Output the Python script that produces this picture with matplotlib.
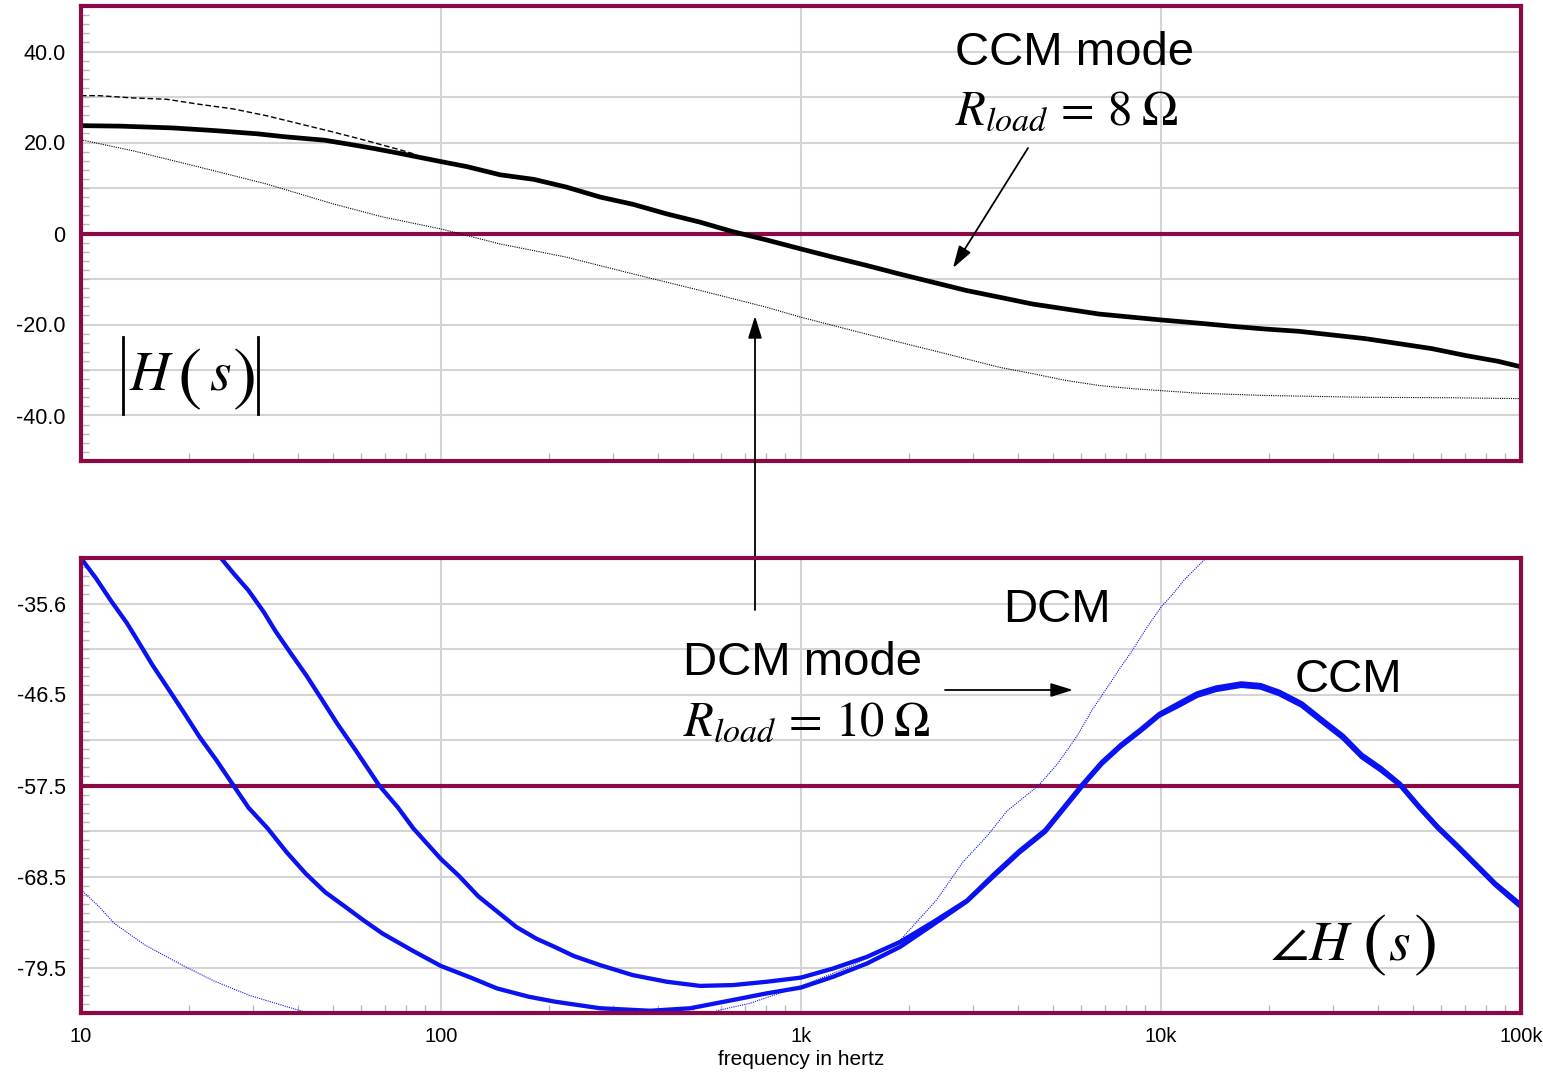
"""Bode plot of the boost converter control-to-output response, CCM vs DCM."""
import matplotlib
matplotlib.use("Agg")
import numpy as np
import matplotlib.pyplot as plt
from matplotlib.lines import Line2D
from matplotlib.ticker import FixedLocator, LogLocator, NullFormatter, FixedFormatter

plt.rcParams["font.family"] = ["Liberation Sans", "DejaVu Sans"]
plt.rcParams["mathtext.fontset"] = "stix"

MAROON = "#8b0a46"
GRID = "#d4d4d4"
TICK = "#b8b8b8"
BLUE = "#0a12f2"

W, H = 1543, 1073

# ---- magnitude (dB) ----
ccm_mag_f = [10, 12.8, 18, 23.7, 31, 36.4, 47.5, 55.8, 64.9, 76.9, 100, 118, 146, 181,
             223, 277, 342, 424, 524, 647, 801, 1000, 1227, 1518, 1878, 2323, 2871,
             3557, 4397, 5445, 6730, 10000, 12700, 15800, 19500, 24200, 29900, 36900,
             45700, 56500, 70000, 86500, 100000]
ccm_mag_db = [23.7, 23.6, 23.2, 22.6, 21.9, 21.3, 20.5, 19.6, 18.7, 17.6, 15.8, 14.7,
              12.9, 11.9, 10.2, 8.0, 6.4, 4.3, 2.5, 0.4, -1.4, -3.4, -5.2, -7.0, -8.9,
              -10.7, -12.5, -14.0, -15.5, -16.6, -17.7, -19.0, -19.7, -20.4, -21.0,
              -21.5, -22.3, -23.1, -24.2, -25.3, -26.8, -28.1, -29.3]

ccm_open_f = [10, 11.2, 13.9, 17.3, 21.3, 26.4, 32.7, 40.5, 50.2, 62.1, 76.9, 85.6]
ccm_open_db = [30.3, 30.3, 29.8, 29.5, 28.4, 27.4, 25.9, 24.1, 22.3, 20.4, 18.4, 17.3]

dcm_mag_f = [10, 13.9, 21.3, 32.7, 50.2, 69.2, 100, 146, 223, 342, 524, 801, 1000,
             1518, 2323, 3557, 4397, 5445, 6730, 8340, 12700, 19500, 36900, 64300,
             100000]
dcm_mag_db = [20.6, 18.2, 14.6, 10.9, 6.5, 3.6, 1.0, -2.3, -5.2, -8.9, -12.5, -16.2,
              -18.4, -22.1, -25.7, -29.4, -30.8, -32.3, -33.4, -34.1, -35.1, -35.6,
              -36.0, -36.1, -36.3]

# ---- phase (deg) ----
ccm_ph_a_f = [10, 11.0, 12.1, 13.4, 14.4, 15.8, 17.5, 19.3, 21.3, 23.8, 26.5, 29.2, 33,
              37.3, 42.2, 47.7, 54, 61, 68.9, 83.8, 100, 121, 143, 175, 207, 277, 381,
              492, 647, 803, 1000, 1228, 1524, 1884, 2328, 2891, 3443, 4045, 4768, 6070,
              6850, 7740, 8750, 9880, 11200, 12600, 14200, 16700, 18900, 21300, 24600,
              28300, 32000, 36100, 40800, 46100, 52100, 58800, 66400, 75000, 84700,
              100000]
ccm_ph_a_deg = [-30.1, -32.5, -35.2, -37.9, -40.1, -43.0, -45.9, -48.7, -51.6, -54.5,
                -57.5, -60.2, -62.7, -65.6, -68.2, -70.4, -72.1, -73.8, -75.4, -77.5,
                -79.3, -80.7, -82.0, -83.0, -83.6, -84.4, -84.7, -84.4, -83.4, -82.6,
                -81.9, -80.6, -79.0, -77.0, -74.3, -71.5, -68.4, -65.6, -63.1, -57.5,
                -54.9, -52.8, -51.0, -49.1, -47.9, -46.7, -46.0, -45.5, -45.7, -46.5,
                -47.9, -50.0, -51.8, -54.1, -55.7, -57.5, -60.2, -62.7, -64.9, -67.2,
                -69.5, -72.2]

ccm_ph_b_f = [24.5, 26.5, 29.2, 32.2, 34.7, 38.3, 42.2, 46.6, 51.4, 58, 67.3, 76, 83.8,
              100, 112, 127, 143, 162, 184, 207, 234, 277, 341, 424, 524, 647, 803, 1000,
              1228, 1524, 1884, 2328, 2891, 3443, 4045, 4768, 6070, 6850, 7740, 8750,
              9880, 11200, 12600, 14200, 16700, 18900, 21300, 24600, 28300, 32000,
              36100, 40800, 46100, 52100, 58800, 66400, 75000, 84700, 100000]
ccm_ph_b_deg = [-30.1, -31.9, -34.0, -36.6, -38.9, -41.6, -44.2, -47.1, -50.0, -53.3,
                -57.5, -60.2, -62.7, -66.4, -68.4, -70.9, -72.7, -74.6, -76.0, -77.0,
                -78.1, -79.2, -80.4, -81.2, -81.7, -81.6, -81.2, -80.7, -79.6, -78.2,
                -76.4, -74.0, -71.4, -68.2, -65.4, -62.9, -57.3, -54.7, -52.6, -50.8,
                -48.9, -47.6, -46.4, -45.7, -45.2, -45.4, -46.2, -47.6, -49.7, -51.5,
                -53.8, -55.4, -57.3, -60.0, -62.5, -64.7, -67.0, -69.3, -71.9]

dcm_ph_f = [10, 11.2, 12.4, 15.1, 19.3, 23.4, 29.2, 34.7, 42.2, 60, 100, 200, 350, 596,
            721, 1000, 1367, 1884, 2383, 2812, 3305, 3733, 4573, 5160, 5835, 6460, 7140,
            7740, 8390, 9120, 10000, 10900, 11600, 13400]
dcm_ph_deg = [-70.1, -72.1, -74.2, -76.8, -79.3, -81.1, -82.8, -83.8, -84.9, -87.0,
              -89.0, -89.5, -88.0, -84.6, -83.8, -81.7, -79.4, -76.2, -71.3, -66.8,
              -63.5, -60.6, -57.5, -54.9, -51.6, -48.3, -45.5, -43.2, -41.0, -38.5,
              -36.0, -34.2, -32.7, -30.0]

# ---- axes ----
freq_ticks = [10, 100, 1000, 10000, 100000]
freq_labels = ["10", "100", "1k", "10k", "100k"]

mag_lim = (-50, 50)
mag_grid = [-40, -30, -20, -10, 0, 10, 20, 30, 40]
mag_ticks = [40, 20, 0, -20, -40]
mag_labels = ["40.0", "20.0", "0", "-20.0", "-40.0"]

ph_top, ph_step = -30.07, 5.49
ph_lim = (ph_top - 10 * ph_step, ph_top)
ph_ticks = [-35.56, -46.54, -57.52, -68.50, -79.48]
ph_labels = ["-35.6", "-46.5", "-57.5", "-68.5", "-79.5"]


def style_axes(ax, ylim, grid, ticks, labels, minor, mid, show_x):
    ax.set_xscale("log")
    ax.set_xlim(10, 100000)
    ax.set_ylim(*ylim)
    for s in ax.spines.values():
        s.set_color(MAROON)
        s.set_linewidth(3.0)
        s.set_zorder(5)
    ax.set_yticks(ticks, labels)
    ax.yaxis.set_minor_locator(FixedLocator(minor))
    ax.xaxis.set_major_locator(FixedLocator(freq_ticks))
    ax.xaxis.set_minor_locator(LogLocator(base=10, subs=np.arange(2, 10)))
    ax.xaxis.set_minor_formatter(NullFormatter())
    if show_x:
        ax.xaxis.set_major_formatter(FixedFormatter(freq_labels))
    else:
        ax.xaxis.set_major_formatter(NullFormatter())
    ax.tick_params(which="major", length=0)
    ax.tick_params(axis="x", which="major", labelsize=14.5, pad=10)
    ax.tick_params(axis="y", which="major", labelsize=15.5, pad=11)
    ax.tick_params(which="minor", direction="in", length=6, width=1, color=TICK)
    for g in grid:
        ax.axhline(g, color=GRID, lw=1.5, zorder=1)
    for f in freq_ticks[1:-1]:
        ax.axvline(f, color=GRID, lw=1.5, zorder=1)
    ax.axhline(mid, color=MAROON, lw=3.0, zorder=2)


fig = plt.figure(figsize=(W / 100, H / 100), dpi=100)
ax_mag = fig.add_axes([81 / W, 1 - 461 / H, 1440 / W, 455 / H])
ax_ph = fig.add_axes([81 / W, 1 - 1013 / H, 1440 / W, 455 / H])

style_axes(ax_mag, mag_lim, mag_grid, mag_ticks, mag_labels,
           np.arange(-48, 50, 2), 0, False)
ph_grid = [ph_top - k * ph_step for k in range(1, 10)]
style_axes(ax_ph, ph_lim, ph_grid, ph_ticks, ph_labels,
           ph_top - np.arange(1, 50) * ph_step / 5, -57.52, True)
ax_ph.set_xlabel("frequency in hertz", fontsize=15, labelpad=3)

# magnitude traces
ax_mag.plot(ccm_open_f, ccm_open_db, color="black", lw=1.0, ls=(0, (4, 2)), zorder=3)
ax_mag.plot(dcm_mag_f, dcm_mag_db, color="black", lw=0.8, ls=(0, (1, 1)), zorder=3)
ax_mag.plot(ccm_mag_f, ccm_mag_db, color="black", lw=3.4, zorder=4)

# phase traces
ax_ph.plot(dcm_ph_f, dcm_ph_deg, color=BLUE, lw=0.8, ls=(0, (1, 1)), zorder=3)
ax_ph.plot(ccm_ph_a_f, ccm_ph_a_deg, color=BLUE, lw=3.1, zorder=4)
ax_ph.plot(ccm_ph_b_f, ccm_ph_b_deg, color=BLUE, lw=3.1, zorder=4)


def fpos(x, y):
    return x / W, 1 - y / H


txt = dict(fontsize=34, color="black", ha="left", va="baseline")
math = dict(fontsize=35, color="black", ha="left", va="baseline")
fig.text(*fpos(955, 65), "CCM mode", **txt)
fig.text(*fpos(955, 124), r"$R_{load}\,=\,8\;\Omega$", **math)
fig.text(*fpos(683, 675), "DCM mode", **txt)
fig.text(*fpos(683, 735), r"$R_{load}\,=\,10\;\Omega$", **math)
fig.text(*fpos(1003, 622), "DCM", **txt)
fig.text(*fpos(1295, 692), "CCM", **txt)


def transfer_label(x_h, x_lp, x_s, x_rp, base, mid, head):
    """H(s) in italics with tall parentheses around s."""
    fig.text(*fpos(x_h, base), head, fontsize=40, ha="left", va="baseline")
    fig.text(*fpos(x_s, base), r"$s$", fontsize=40, ha="left", va="baseline")
    for xp, p in ((x_lp, "("), (x_rp, ")")):
        fig.text(*fpos(xp, mid), "$" + p + "$", fontsize=52, ha="center", va="center")


transfer_label(129, 189, 209, 243, 390, 379, r"$H$")
for bx in (123, 258):
    fig.add_artist(Line2D([bx / W, bx / W], [1 - 337 / H, 1 - 414 / H],
                          color="black", lw=2.0, transform=fig.transFigure))
transfer_label(1270, 1374, 1388, 1424, 960, 945, r"$\angle H$")

arrow = dict(arrowstyle="-|>,head_length=0.9,head_width=0.28", color="black",
             lw=1.3, mutation_scale=15, shrinkA=0, shrinkB=0)
for tail, head in [((1028, 148), (953, 268)),
                   ((755, 610), (755, 316)),
                   ((945, 690), (1073, 690))]:
    ax_ph.annotate("", xy=fpos(*head), xytext=fpos(*tail),
                   xycoords="figure fraction", textcoords="figure fraction",
                   arrowprops=arrow, annotation_clip=False)

fig.savefig("out.png", dpi=100)
